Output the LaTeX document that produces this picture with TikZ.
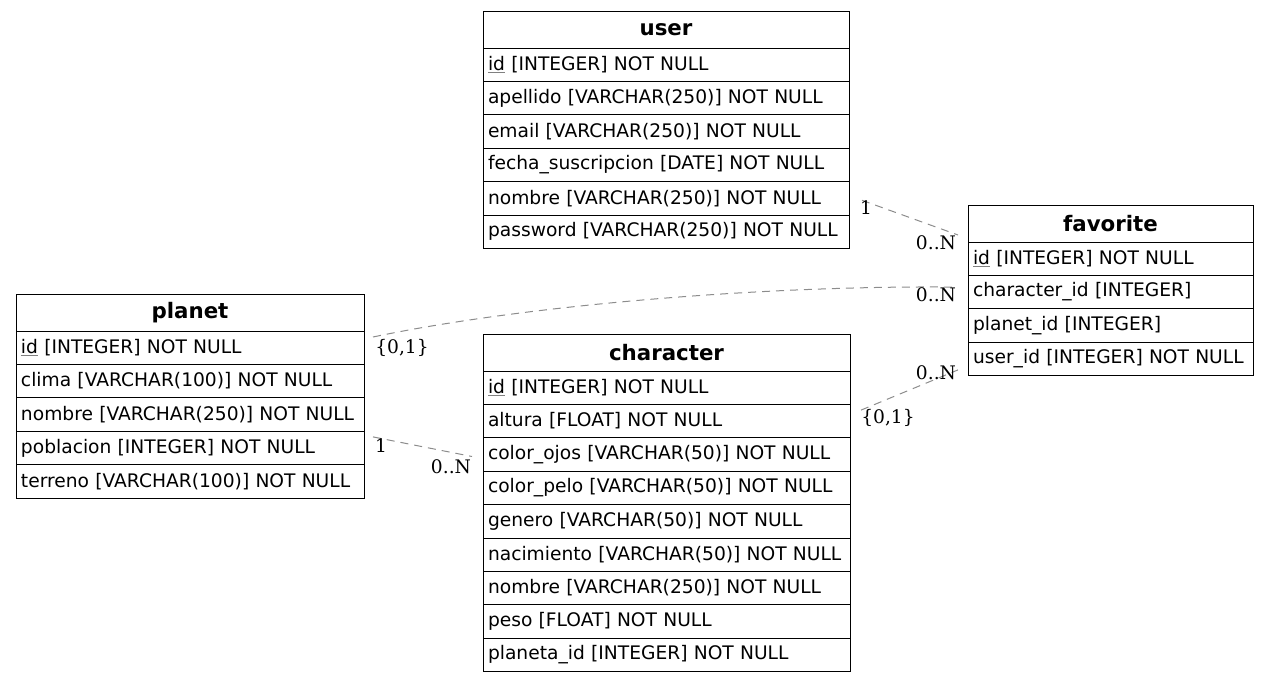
\documentclass[tikz,border=0pt]{standalone}
\usepackage{fontspec}
\setmainfont{DejaVu Sans}
\newfontfamily\lblfont{DejaVu Serif}
\usetikzlibrary{calc}
\newcommand\pkey[1]{{\color{gray}\underline{\color{black}#1}}}
\tikzset{
 tblrow/.style={draw, line width=0.75pt, inner xsep=3.75pt, inner ysep=0pt, outer sep=0pt, anchor=north west,
   minimum height=25.05pt, align=left, font=\fontsize{14}{16}\selectfont},
 tblhdr/.style={draw, line width=0.75pt, inner sep=0pt, outer sep=0pt, anchor=north west,
   minimum height=27.75pt, align=center, font=\fontsize{16}{18}\selectfont\bfseries},
 rel/.style={draw=gray!90, dash pattern=on 6pt off 4.5pt, line width=0.75pt},
 card/.style={inner sep=0pt, font=\lblfont\fontsize{14}{16}\selectfont},
}
\begin{document}
\begin{tikzpicture}[x=0.75pt,y=-0.75pt]
\useasboundingbox (0,0) rectangle (1269,682);
% user
\node[tblhdr, text width=274.5pt] (uh) at (483,11) {user};
\node[tblrow, text width=267pt] (u1) at (uh.south west) {\pkey{id} [INTEGER] NOT NULL};
\node[tblrow, text width=267pt] (u2) at (u1.south west) {apellido [VARCHAR(250)] NOT NULL};
\node[tblrow, text width=267pt] (u3) at (u2.south west) {email [VARCHAR(250)] NOT NULL};
\node[tblrow, text width=267pt] (u4) at (u3.south west) {fecha\_suscripcion [DATE] NOT NULL};
\node[tblrow, text width=267pt] (u5) at (u4.south west) {nombre [VARCHAR(250)] NOT NULL};
\node[tblrow, text width=267pt] (u6) at (u5.south west) {password [VARCHAR(250)] NOT NULL};
% favorite
\node[tblhdr, text width=213.75pt] (fh) at (968,205) {favorite};
\node[tblrow, text width=206.25pt] (f1) at (fh.south west) {\pkey{id} [INTEGER] NOT NULL};
\node[tblrow, text width=206.25pt] (f2) at (f1.south west) {character\_id [INTEGER]};
\node[tblrow, text width=206.25pt] (f3) at (f2.south west) {planet\_id [INTEGER]};
\node[tblrow, text width=206.25pt] (f4) at (f3.south west) {user\_id [INTEGER] NOT NULL};
% planet
\node[tblhdr, text width=261pt] (ph) at (16,294) {planet};
\node[tblrow, text width=253.5pt] (p1) at (ph.south west) {\pkey{id} [INTEGER] NOT NULL};
\node[tblrow, text width=253.5pt] (p2) at (p1.south west) {clima [VARCHAR(100)] NOT NULL};
\node[tblrow, text width=253.5pt] (p3) at (p2.south west) {nombre [VARCHAR(250)] NOT NULL};
\node[tblrow, text width=253.5pt] (p4) at (p3.south west) {poblacion [INTEGER] NOT NULL};
\node[tblrow, text width=253.5pt] (p5) at (p4.south west) {terreno [VARCHAR(100)] NOT NULL};
% character
\node[tblhdr, text width=275.25pt] (ch) at (483,334) {character};
\node[tblrow, text width=267.75pt] (c1) at (ch.south west) {\pkey{id} [INTEGER] NOT NULL};
\node[tblrow, text width=267.75pt] (c2) at (c1.south west) {altura [FLOAT] NOT NULL};
\node[tblrow, text width=267.75pt] (c3) at (c2.south west) {color\_ojos [VARCHAR(50)] NOT NULL};
\node[tblrow, text width=267.75pt] (c4) at (c3.south west) {color\_pelo [VARCHAR(50)] NOT NULL};
\node[tblrow, text width=267.75pt] (c5) at (c4.south west) {genero [VARCHAR(50)] NOT NULL};
\node[tblrow, text width=267.75pt] (c6) at (c5.south west) {nacimiento [VARCHAR(50)] NOT NULL};
\node[tblrow, text width=267.75pt] (c7) at (c6.south west) {nombre [VARCHAR(250)] NOT NULL};
\node[tblrow, text width=267.75pt] (c8) at (c7.south west) {peso [FLOAT] NOT NULL};
\node[tblrow, text width=267.75pt] (c9) at (c8.south west) {planeta\_id [INTEGER] NOT NULL};
% connector end points
\coordinate (eu) at ($(u5.east)+(13,2)$);
\coordinate (ef1) at ($(fh.south west)+(-10,-7)$);
\coordinate (ep) at ($(p1.north east)+(9,6)$);
\coordinate (ef2) at ($(f2.west)+(-12,-5)$);
\coordinate (ec) at ($(c2.east)+(11,-11)$);
\coordinate (ef3) at ($(f4.west)+(-10,11)$);
\coordinate (ep4) at ($(p4.east)+(9,-11)$);
\coordinate (ec3) at ($(c3.west)+(-11,2)$);
% connectors
\draw[rel] (eu) -- (ef1);
\draw[rel] (ep) .. controls ($(ep)+(147,-31)$) and ($(ef2)+(-196,-2)$) .. (ef2);
\draw[rel] (ec) -- (ef3);
\draw[rel] (ep4) -- (ec3);
% cardinalities
\node[card] (l1) at (866,208) {1};
\node[card] (l2) at (936,243) {0..N};
\node[card] (l3) at (402,348) {\{0,1\}};
\node[card] (l4) at (936,295) {0..N};
\node[card] (l5) at (888,418) {\{0,1\}};
\node[card] (l6) at (936,373) {0..N};
\node[card] (l7) at (381,446) {1};
\node[card] (l8) at (451,467) {0..N};
\end{tikzpicture}
\end{document}
